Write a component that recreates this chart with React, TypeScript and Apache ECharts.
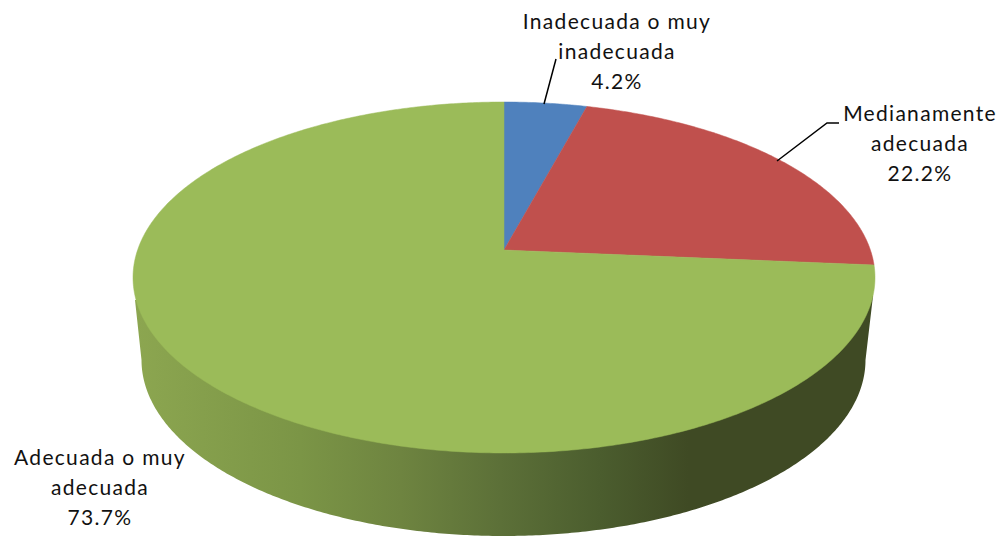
import React, { useEffect, useRef } from "react";
import * as echarts from "echarts";

const categories = ["Inadecuada o muy\ninadecuada", "Medianamente\nadecuada", "Adecuada o muy\nadecuada"];
const values = [4.2, 22.2, 73.7];
const colors = ["#4F81BD", "#C0504D", "#9BBB59"];
const labelCenters = [[617, 5], [920, 97], [100, 441]];
const FONT = "Lato";
const FONT_SIZE = 21;

const CX = 504;
const K = 366.4;
const P = 0.1567;
const A = -132;
const B = 250;

// perspective projection of a unit-circle point onto the screen, theta clockwise from top
function project(theta: number): number[] {
  const u = Math.sin(theta);
  const v = Math.cos(theta);
  const d = 1 + P * v;
  return [CX + (K * u) / d, (A * v + B) / d];
}

function arcPoints(a0: number, a1: number): number[][] {
  const n = Math.max(4, Math.ceil(Math.abs(a1 - a0) / 0.01));
  const out: number[][] = [];
  for (let i = 0; i <= n; i++) out.push(project(a0 + ((a1 - a0) * i) / n));
  return out;
}

function renderSlice(params: any, api: any) {
  const i = params.dataIndex;
  const total = values.reduce((s, x) => s + x, 0);
  let before = 0;
  for (let k = 0; k < i; k++) before += values[k];
  const a0 = (before / total) * Math.PI * 2;
  const a1 = ((before + api.value(0)) / total) * Math.PI * 2;
  return {
    type: "group",
    children: [
      {
        type: "polygon",
        shape: { points: [[CX, B], ...arcPoints(a0, a1)] },
        style: { fill: colors[i], stroke: colors[i], lineWidth: 0.5 },
      },
      {
        type: "text",
        x: labelCenters[i][0],
        y: labelCenters[i][1],
        style: {
          text: `${categories[i]}\n${api.value(0).toFixed(1)}%`,
          fill: "#111111",
          font: `${FONT_SIZE}px ${FONT}`,
          lineHeight: 30,
          align: "center",
          verticalAlign: "top",
        },
      },
    ],
  };
}

function renderSide() {
  const bx = 503.5, by = 360, brx = 362, bry = 176;
  const pts: number[][] = [];
  // left join on the upper rim, then down round the lower half of the base rim, up to the right join
  pts.push([135, 300]);
  for (let t = Math.PI; t >= 0; t -= 0.01) {
    pts.push([bx + brx * Math.cos(t), by + bry * Math.sin(t)]);
  }
  pts.push([bx + brx, by]);
  pts.push([873, 296]);
  pts.push([CX, 277]);
  return {
    type: "polygon",
    shape: { points: pts },
    style: {
      fill: {
        type: "linear", x: 135, y: 0, x2: 873, y2: 0, global: true,
        colorStops: [
          { offset: 0, color: "#8CA650" },
          { offset: 0.224, color: "#7B9546" },
          { offset: 0.36, color: "#6E8440" },
          { offset: 0.495, color: "#5C7038" },
          { offset: 0.63, color: "#4B5D2E" },
          { offset: 0.75, color: "#3F4A24" },
          { offset: 1, color: "#3F4A24" },
        ],
      },
    },
  };
}

export default function App() {
  const ref = useRef<HTMLDivElement>(null);
  useEffect(() => {
    const chart = echarts.init(ref.current!, null, { renderer: "svg" });
    chart.setOption({
      animation: false,
      backgroundColor: "#ffffff",
      series: [
        {
          type: "custom", coordinateSystem: "none", silent: true, z: 1,
          renderItem: renderSide, data: [values[2]],
        },
        {
          type: "custom", coordinateSystem: "none", silent: true, z: 2,
          renderItem: renderSlice, data: values.map((v) => [v]),
          encode: { value: 0 },
        },
      ],
      graphic: [
        { type: "polyline", z: 10, shape: { points: [[544, 104], [556, 59]] }, style: { stroke: "#000", lineWidth: 1.5, fill: "none" } },
        { type: "polyline", z: 10, shape: { points: [[777, 161], [827, 123], [839, 123]] }, style: { stroke: "#000", lineWidth: 1.5, fill: "none" } },
      ],
    });
    return () => chart.dispose();
  }, []);
  return <div ref={ref} style={{ position: "absolute", left: 0, top: 0, width: 999, height: 536, letterSpacing: "1.3px" }} />;
}
